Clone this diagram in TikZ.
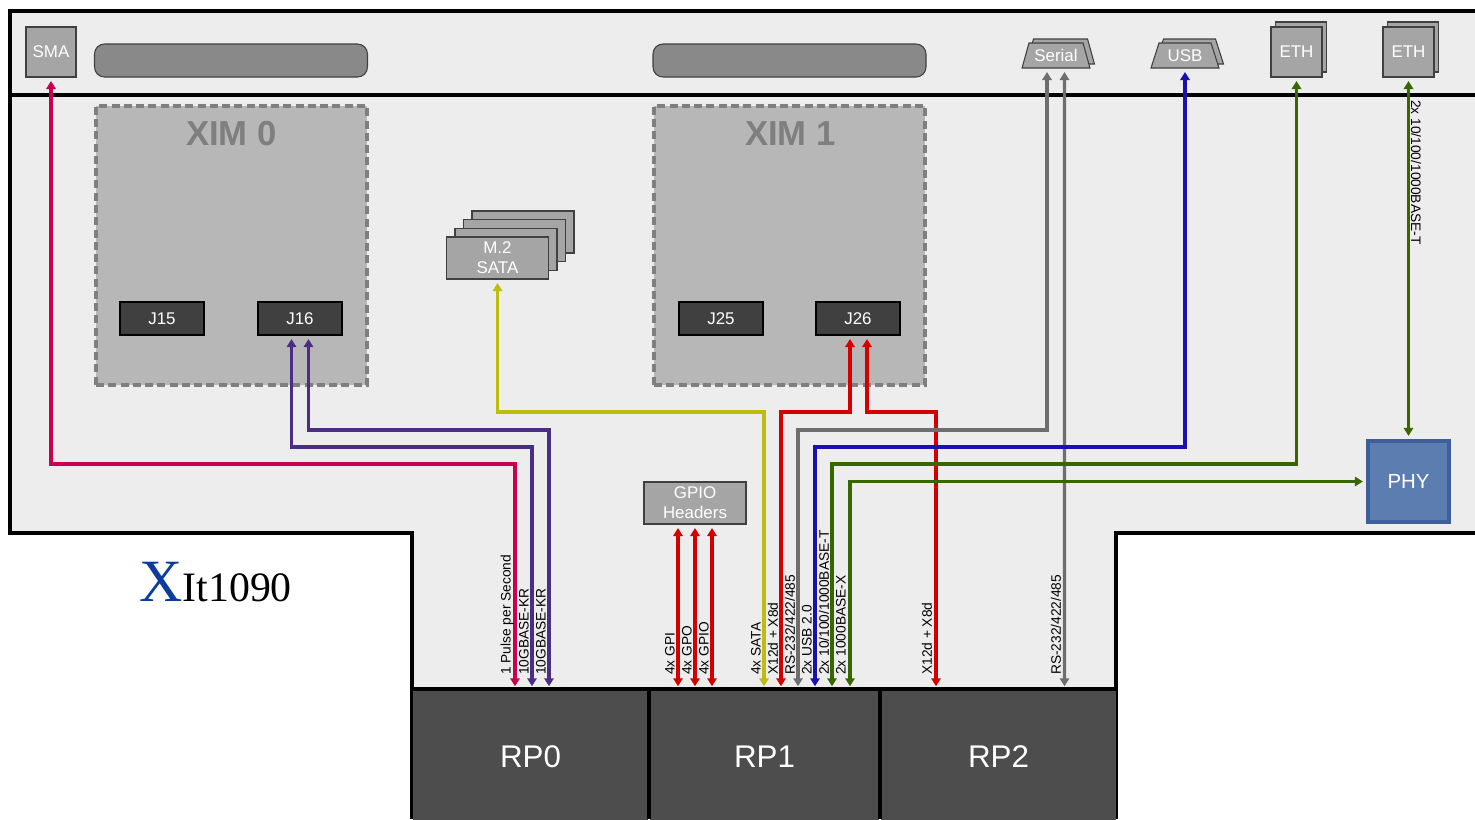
\documentclass[tikz,border=0pt]{standalone}
\usepackage{fontspec}
\setmainfont{Liberation Sans}
\newfontfamily\logofont{Liberation Serif}
\usetikzlibrary{arrows.meta,calc,shapes.geometric}
\newcommand{\px}{0.75pt}
\definecolor{boardgray}{HTML}{EDEDED}
\definecolor{ximgray}{HTML}{B7B7B7}
\definecolor{ximedge}{HTML}{7F7F7F}
\definecolor{partgray}{HTML}{A5A5A5}
\definecolor{pillgray}{HTML}{898989}
\definecolor{darkgray}{HTML}{404040}
\definecolor{rpgray}{HTML}{4D4D4D}
\definecolor{phyblue}{HTML}{5B7DB0}
\definecolor{phyedge}{HTML}{3F5E9C}
\definecolor{ppspink}{HTML}{C8004F}
\definecolor{kurple}{HTML}{4B2E83}
\definecolor{sigred}{HTML}{D40000}
\definecolor{sataolive}{HTML}{BDBD10}
\definecolor{sergray}{HTML}{6E6E6E}
\definecolor{usbblue}{HTML}{1A0FB0}
\definecolor{ethgreen}{HTML}{3A6600}
\definecolor{logoblue}{HTML}{0B3C9E}
\tikzset{
  part/.style={draw=darkgray, line width=0.8pt, fill=partgray, text=white, inner sep=0pt,
    align=center, font=\fontsize{12.7}{15}\selectfont},
  sized/.style n args={2}{minimum width=#1*\px, minimum height=#2*\px},
  pill/.style={draw=darkgray, line width=0.8pt, fill=pillgray, rounded corners=7.5pt,
    minimum width=273*\px, minimum height=33*\px},
  xim/.style={draw=ximedge, dashed, dash pattern=on 6pt off 3.2pt, line width=2.6pt, fill=ximgray,
    minimum width=271*\px, minimum height=279*\px},
  ximtitle/.style={text=ximedge, font=\fontsize{26}{28}\selectfont\bfseries},
  jack/.style={draw=black, line width=0.8pt, fill=darkgray, text=white, inner sep=0pt,
    minimum width=84*\px, minimum height=33*\px, font=\fontsize{12.7}{15}\selectfont},
  port/.style={part, trapezium, trapezium angle=66, trapezium stretches=true,
    minimum width=68*\px, minimum height=25*\px},
  rp/.style={fill=rpgray, text=white, inner sep=0pt, minimum height=133*\px,
    font=\fontsize{23.5}{26}\selectfont},
  sigup/.style={rotate=90, anchor=west, inner sep=0pt, font=\fontsize{10.3}{12}\selectfont},
  link/.style={{Triangle[length=6pt,width=7pt]}-{Triangle[length=6pt,width=7pt]}, line width=2.3pt,
    shorten <=2.6pt, shorten >=2.6pt},
  edgeline/.style={draw=black, line width=2.3pt}
}
\begin{document}
\begin{tikzpicture}[x=\px,y=-\px]
    \useasboundingbox (0,0) rectangle (1475,819);

    % board
    \fill[boardgray] (10,11) -- (1475,11) -- (1475,533) -- (1116,533) -- (1116,819)
    -- (412,819) -- (412,533) -- (10,533) -- cycle;
    \draw[edgeline] (1475,11) -- (10,11) -- (10,533) -- (412,533) -- (412,819)
    (1475,533) -- (1116,533) -- (1116,819)
    (10,95) -- (1475,95);

    % front panel
    \node[part,sized={50}{50}] (sma) at (51,52) {SMA};
    \node[pill] (slot0) at (231,60.5) {};
    \node[pill] (slot1) at (789.5,60.5) {};
    \node[port] (serialb) at (1060.5,51.5) {\phantom{Serial}};
    \node[port] (serial) at (1056,55.5) {Serial};
    \node[port] (usbb) at (1189.5,51.5) {\phantom{USB}};
    \node[port] (usb) at (1185,55.5) {USB};
    \node[part,sized={51}{50}] (ethb) at (1301,47) {};
    \node[part,sized={51}{50}] (eth) at (1296.5,52) {ETH};
    \node[part,sized={51}{50}] (ethtwob) at (1413,47) {};
    \node[part,sized={51}{50}] (ethtwo) at (1408.5,52) {ETH};

    % xim sites
    \node[xim] (xim0) at (231.5,245.5) {};
    \node[ximtitle] (xim0title) at (231.5,134) {XIM 0};
    \node[jack] (j15) at (162,318.5) {J15};
    \node[jack] (j16) at (300,318.5) {J16};
    \node[xim] (xim1) at (789.5,245.5) {};
    \node[ximtitle] (xim1title) at (790.5,134) {XIM 1};
    \node[jack] (j25) at (721,318.5) {J25};
    \node[jack] (j26) at (858,318.5) {J26};

    % m.2 stack
    \node[part,sized={102}{42}] (m2c) at (523,232) {};
    \node[part,sized={102}{42}] (m2b) at (514.5,240.5) {};
    \node[part,sized={102}{42}] (m2a) at (506,249.5) {};
    \node[part,sized={102}{42}] (m2) at (497.5,258) {M.2\\SATA};

    \node[part,sized={102}{42}] (gpio) at (695,503) {GPIO\\Headers};
    \node[draw=phyedge,line width=2.5pt,fill=phyblue,text=white,sized={81}{81},
      font=\fontsize{15.3}{17}\selectfont] (phy) at (1408.5,481.5) {PHY};

    \node[rp,minimum width=235*\px] (rp0) at (530.5,756.5) {RP0};
    \node[rp,minimum width=229*\px] (rp1) at (764.5,756.5) {RP1};
    \node[rp,minimum width=235*\px] (rp2) at (998.5,756.5) {RP2};
    \draw[edgeline] (412,689) -- (1116,689)
    (649,689) -- (649,819)
    (880,689) -- (880,819);

    % links
    \draw[link,sataolive] (m2.south) |- (764,412) -- ($(rp1.north)+(-0.5,0)$);
    \draw[link,sigred] ($(j26.south)+(-8,0)$) |- (781,412) -- ($(rp1.north)+(16.5,0)$);
    \draw[link,sigred] ($(j26.south)+(9,0)$) |- (936,412) -- ($(rp2.north)+(-62.5,0)$);
    \draw[link,sergray] ($(serial.south)+(8.5,0)$) -- ($(rp2.north)+(66,0)$);
    \draw[link,sergray] ($(serial.south)+(-9,0)$) |- (798,430) -- ($(rp1.north)+(33.5,0)$);
    \draw[link,usbblue] (usb.south) |- (815,447) -- ($(rp1.north)+(50.5,0)$);
    \draw[link,ethgreen] (eth.south) |- (832,464) -- ($(rp1.north)+(67.5,0)$);
    \draw[link,ethgreen] (phy.west) -| ($(rp1.north)+(85.5,0)$);
    \draw[link,ethgreen] (ethtwo.south) -- (phy.north);
    \draw[link,ppspink] (sma.south) |- (515,464) -- ($(rp0.north)+(-15.5,0)$);
    \draw[link,kurple] ($(j16.south)+(-8.5,0)$) |- (532,447) -- ($(rp0.north)+(1.5,0)$);
    \draw[link,kurple] ($(j16.south)+(8.5,0)$) |- (549,430) -- ($(rp0.north)+(18.5,0)$);
    \draw[link,sigred] ($(gpio.south)+(-17,0)$) -- ($(rp1.north)+(-86.5,0)$);
    \draw[link,sigred] (gpio.south) -- ($(rp1.north)+(-69.5,0)$);
    \draw[link,sigred] ($(gpio.south)+(17,0)$) -- ($(rp1.north)+(-52.5,0)$);

    % signal names
    \node[sigup] (lpps) at (507,675) {1 Pulse per Second};
    \node[sigup] (lkra) at (524,675) {10GBASE-KR};
    \node[sigup] (lkrb) at (541,675) {10GBASE-KR};
    \node[sigup] (lgpi) at (670,675) {4x GPI};
    \node[sigup] (lgpo) at (687,675) {4x GPO};
    \node[sigup] (lgpio) at (704,675) {4x GPIO};
    \node[sigup] (lsata) at (756,675) {4x SATA};
    \node[sigup] (lxa) at (773,675) {X12d + X8d};
    \node[sigup] (lrsa) at (790,675) {RS-232/422/485};
    \node[sigup] (lusb) at (807,675) {2x USB 2.0};
    \node[sigup] (lbaset) at (824,675) {2x 10/100/1000BASE-T};
    \node[sigup] (lbasex) at (841,675) {2x 1000BASE-X};
    \node[sigup] (lxb) at (927,675) {X12d + X8d};
    \node[sigup] (lrsb) at (1056,675) {RS-232/422/485};
    \node[rotate=-90,anchor=west,inner sep=0pt,font=\fontsize{10.3}{12}\selectfont] (lphy) at (1416,100) {2x 10/100/1000BASE-T};

    \node[anchor=base west,inner sep=0pt,font=\logofont\fontsize{31.4}{34}\selectfont] (logo) at (139,601)
    {{\fontsize{45}{47}\selectfont\color{logoblue}X}It1090};
\end{tikzpicture}
\end{document}
